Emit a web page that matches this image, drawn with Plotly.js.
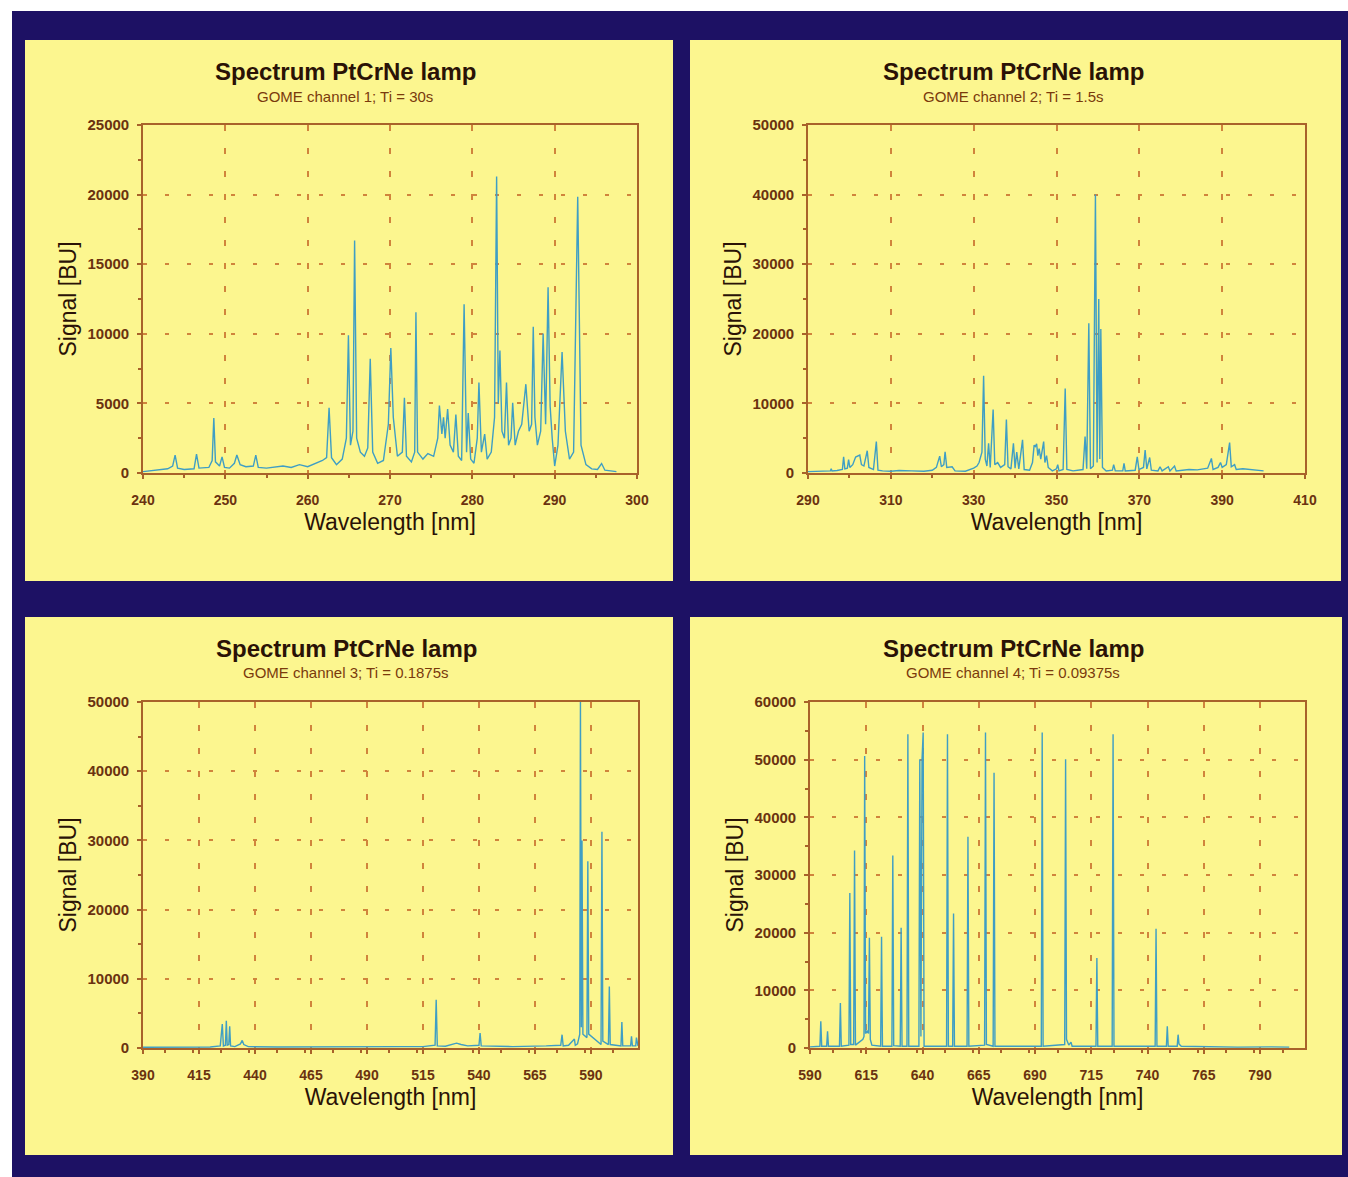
<!DOCTYPE html>
<html>
<head>
<meta charset="utf-8">
<script src="https://cdn.plot.ly/plotly-3.0.1.min.js"></script>
<style>html,body{margin:0;padding:0;background:#fff;}#chart{width:1348px;height:1177px;}</style>
</head>
<body>
<div id="chart"></div>
<script>
// ---------- DATA ----------
const panelTitle = "Spectrum PtCrNe lamp";
const subTitles = ["GOME channel 1; Ti = 30s", "GOME channel 2; Ti = 1.5s", "GOME channel 3; Ti = 0.1875s", "GOME channel 4; Ti = 0.09375s"];
const xTitle = "Wavelength [nm]";
const yTitle = "Signal [BU]";

const ch1Wavelength = [240,241,242,243,243.6,243.9,244.2,245,246.2,246.5,246.8,248.0,248.4,248.6,248.8,249.3,249.6,249.9,250.5,251.1,251.4,251.8,252.5,253.4,253.7,254.0,255,256,257,258,259,260,261,261.8,262.3,262.6,262.9,263.5,264.2,264.7,264.95,265.2,265.5,265.7,265.95,266.4,266.9,267.3,267.6,267.9,268.5,269.2,269.8,270.1,270.4,270.9,271.5,271.75,272.0,272.6,273.0,273.15,273.35,274.0,274.6,275.3,275.8,276.0,276.3,276.5,276.7,277.0,277.3,277.7,278.0,278.3,278.7,279.0,279.3,279.5,279.8,280.2,280.6,280.8,281.1,281.5,281.8,282.3,282.7,282.95,283.15,283.35,283.6,283.9,284.15,284.4,284.7,284.9,285.2,285.6,286.0,286.5,286.9,287.2,287.4,287.6,287.9,288.3,288.6,288.9,289.2,289.45,289.7,290.0,290.4,290.9,291.3,291.8,292.3,292.8,293.2,293.8,294.5,295.2,295.7,296.1,296.8,297.5];
const ch1Signal = [100,150,250,300,500,1290,350,250,300,1360,350,400,900,3950,800,500,1160,400,350,700,1290,600,450,500,1290,400,350,450,500,400,600,450,700,900,1100,4680,1100,600,1000,2500,9900,2000,3000,16700,2500,1500,1200,1800,8200,1500,700,900,3500,8980,4000,1200,1500,5400,1200,800,1500,11550,1500,1000,1400,1200,2500,4850,2800,4000,2500,4600,2000,1500,4200,1200,900,12130,1500,4300,1000,700,2500,6500,1500,2800,1000,1500,4000,21300,5000,8800,3000,2500,6500,2000,2500,5050,2000,3000,3500,6380,3000,3500,10500,4000,2000,3000,10020,3500,13350,4800,2500,500,2000,8690,3000,1000,1500,19850,2000,600,300,250,680,200,150,100];

const ch2Wavelength = [290,294,295.4,295.6,295.8,297,298.3,298.6,298.9,299.5,299.8,300.1,300.8,301.5,302.0,302.5,302.9,303.5,304.3,304.7,305.8,306.5,306.9,308,310,312,315,318,320,321.0,321.8,322.2,322.8,323.1,323.5,324.8,325.5,328,330,330.8,331.3,332.0,332.4,332.8,333.2,333.6,334.0,334.7,335.1,335.8,336.5,337.5,337.9,338.3,339.0,339.6,340.0,340.4,340.9,341.8,342.2,343.5,344.2,344.6,344.9,345.2,345.5,345.8,346.2,346.6,346.9,347.2,347.6,348.0,349,350,350.3,350.6,351.6,352.1,352.5,354,356.4,356.9,357.3,357.8,358.2,358.9,359.4,359.8,360.2,360.45,360.7,361.1,362,363.5,363.8,364.2,366,366.3,366.6,369,369.5,369.9,371.0,371.4,371.8,372.5,372.9,374.5,375,375.5,377,377.4,378.5,378.9,380,382,384,386.5,387.4,387.8,389,389.6,390,391.0,391.8,392.2,393,393.4,395,397,399,400];
const ch2Signal = [200,250,300,630,300,350,500,2330,600,700,1940,800,1200,2300,2500,2570,1200,1000,3200,800,500,4510,400,300,250,350,300,250,400,800,2430,900,1200,3060,800,900,300,250,700,1000,1500,3000,13980,2000,1000,4270,800,9130,1200,1500,800,1200,7670,900,600,4270,700,3000,600,4760,500,400,1500,4000,3800,4200,2500,3500,2000,3200,4510,1500,2500,800,300,600,1200,300,500,12130,500,300,500,5240,600,21500,600,1000,40000,1500,25000,2000,20700,800,300,400,1200,300,300,1400,300,400,2330,500,800,3300,600,2230,400,300,900,300,900,300,1000,300,400,500,450,700,2090,500,800,1500,800,1200,4370,900,1200,500,600,500,400,300];

const ch3Wavelength = [390,400,410,420,424.5,425.4,425.9,426.8,427.2,427.6,428.3,428.7,429.1,431,433.5,434.3,435,437,450,470,490,505,515,520.4,520.9,521.4,525,528,530,532,535,540,540.5,541,555,570,576.5,577.1,577.6,580,582.6,583,584,585.0,585.3,585.7,586.0,586.4,588.2,588.6,589.0,594.5,594.9,595.3,597.8,598.2,598.6,603.4,603.8,604.2,607.7,608.1,608.5,610.0,610.3,611];
const ch3Signal = [100,150,100,150,300,3460,300,400,3940,400,500,3125,300,200,600,1100,500,200,150,200,150,200,200,400,6970,300,250,500,700,500,300,400,2160,300,200,300,400,1920,300,400,1300,400,600,2000,50000,3000,30000,2000,1500,27000,2000,500,31250,1000,500,8900,500,300,3750,300,300,1680,300,300,1500,300];

const ch4Wavelength = [590,594.4,594.8,595.2,597.4,597.8,598.2,603.1,603.5,603.9,607.3,607.7,608.1,609.4,609.8,610.2,613.5,614.0,614.3,614.7,615.5,616.0,616.4,616.8,617.5,621.4,621.8,622.2,626.4,626.8,627.2,630.1,630.5,630.9,633.1,633.5,633.9,638.4,638.8,639.3,639.8,640.3,640.7,650.7,651.1,651.5,653.4,653.8,654.2,659.8,660.2,660.6,667.6,668.0,668.4,671.4,671.8,672.2,692.8,693.2,693.6,703.2,703.6,704.0,705,706,706.5,717.1,717.5,717.9,724.3,724.7,725.1,743.4,743.8,744.2,748.4,748.8,749.2,753.2,753.6,754.0,755,765,780,795,803];
const ch4Signal = [200,300,4630,300,300,2890,300,300,7810,300,500,26900,600,600,34260,500,1500,2000,50640,2500,3000,2500,19100,1500,500,300,19270,300,300,33390,400,300,20830,300,300,54400,300,300,50060,2000,50060,54690,300,300,54400,300,300,23320,300,300,36630,300,500,54690,600,300,47740,300,300,54690,300,600,50060,1500,500,1000,300,300,15620,300,300,54400,300,300,20660,300,300,3760,300,300,2310,700,300,200,150,200,150];

// ---------- STYLE ----------
const W = 1348, H = 1177;
const px = x => x / W;
const py = y => 1 - y / H;
const NAVY = '#1d1164', YELLOW = '#fcf68f', AXIS = '#a8622a', GRID = '#d0843c',
      TICKTXT = '#6a3210', TITLE = '#2a1206', SUB = '#7a3a0c', LINE = '#3f9ec4';
const FONT = 'Liberation Sans, Arial, Helvetica, sans-serif';

const plots = [
  {x:[143,637], y:[125,473], xr:[240,300], xd:10, xm:5, yr:[0,25000], yd:5000, ym:2500, wl:ch1Wavelength, s:ch1Signal, cx:345, ty:72},
  {x:[808,1305], y:[125,473], xr:[290,410], xd:20, xm:10, yr:[0,50000], yd:10000, ym:5000, wl:ch2Wavelength, s:ch2Signal, cx:1013, ty:72},
  {x:[143,638], y:[702,1048], xr:[390,611], xd:25, xm:12.5, yr:[0,50000], yd:10000, ym:5000, wl:ch3Wavelength, s:ch3Signal, cx:346, ty:648},
  {x:[810,1305], y:[702,1048], xr:[590,810], xd:25, xm:12.5, yr:[0,60000], yd:10000, ym:5000, wl:ch4Wavelength, s:ch4Signal, cx:1013, ty:648}
];

const data = [], layout = {
  width: W, height: H, margin: {l:0, r:0, t:0, b:0},
  paper_bgcolor: '#ffffff', plot_bgcolor: 'rgba(0,0,0,0)', showlegend: false,
  font: {family: FONT, color: TICKTXT},
  shapes: [
    {type:'rect', xref:'paper', yref:'paper', x0:px(12), x1:px(1348), y0:py(1177), y1:py(11), fillcolor:NAVY, line:{width:0}, layer:'below'},
    {type:'rect', xref:'paper', yref:'paper', x0:px(25), x1:px(673), y0:py(581), y1:py(40), fillcolor:YELLOW, line:{width:0}, layer:'below'},
    {type:'rect', xref:'paper', yref:'paper', x0:px(690), x1:px(1341), y0:py(581), y1:py(40), fillcolor:YELLOW, line:{width:0}, layer:'below'},
    {type:'rect', xref:'paper', yref:'paper', x0:px(25), x1:px(673), y0:py(1155), y1:py(617), fillcolor:YELLOW, line:{width:0}, layer:'below'},
    {type:'rect', xref:'paper', yref:'paper', x0:px(690), x1:px(1342), y0:py(1155), y1:py(617), fillcolor:YELLOW, line:{width:0}, layer:'below'}
  ],
  annotations: []
};

plots.forEach((p, i) => {
  const n = i === 0 ? '' : String(i + 1);
  data.push({
    type: 'scatter', mode: 'lines', x: p.wl, y: p.s,
    xaxis: 'x' + n, yaxis: 'y' + n,
    line: {color: LINE, width: 1.4}, hoverinfo: 'x+y'
  });
  layout['xaxis' + n] = {
    domain: [px(p.x[0]), px(p.x[1])], anchor: 'y' + n,
    range: p.xr, tick0: p.xr[0], dtick: p.xd, fixedrange: true,
    showline: true, mirror: true, linecolor: AXIS, linewidth: 1.6,
    showgrid: true, gridcolor: GRID, gridwidth: 1.5, griddash: '6px,17px', zeroline: false,
    ticks: 'outside', ticklen: 4, tickcolor: AXIS, tickwidth: 1.5,
    minor: {dtick: p.xm, ticks: 'outside', ticklen: 3, tickcolor: AXIS, showgrid: false},
    tickfont: {family: FONT, size: 14, color: TICKTXT, weight: 'bold'},
    ticklabelstandoff: 9,
    title: {text: xTitle, font: {family: FONT, size: 23, color: TITLE}, standoff: 7}
  };
  layout['yaxis' + n] = {
    domain: [py(p.y[1]), py(p.y[0])], anchor: 'x' + n,
    range: p.yr, dtick: p.yd, tickformat: 'd', fixedrange: true,
    showline: true, mirror: true, linecolor: AXIS, linewidth: 1.6,
    showgrid: true, gridcolor: GRID, gridwidth: 1.5, griddash: '4px,18px', zeroline: false,
    ticks: 'outside', ticklen: 4, tickcolor: AXIS, tickwidth: 1.5,
    minor: {dtick: p.ym, ticks: 'outside', ticklen: 3, tickcolor: AXIS, showgrid: false},
    tickfont: {family: FONT, size: 15, color: TICKTXT, weight: 'bold'},
    ticklabelstandoff: 5,
    title: {text: yTitle, font: {family: FONT, size: 23, color: TITLE}, standoff: 4}
  };
  layout.annotations.push({
    xref:'paper', yref:'paper', x: px(p.cx), y: py(p.ty), xanchor:'center', yanchor:'middle',
    text: panelTitle, showarrow: false, font: {family: FONT, size: 24, color: TITLE, weight: 'bold'}
  });
  layout.annotations.push({
    xref:'paper', yref:'paper', x: px(p.cx), y: py(p.ty + 24), xanchor:'center', yanchor:'middle',
    text: subTitles[i], showarrow: false, font: {family: FONT, size: 15, color: SUB}
  });
});

Plotly.newPlot('chart', data, layout, {displayModeBar: false, staticPlot: false});
</script>
</body>
</html>
